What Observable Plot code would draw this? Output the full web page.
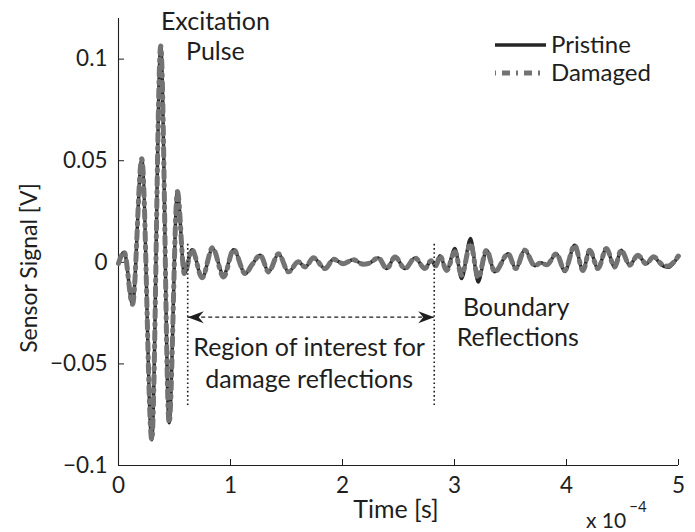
<!DOCTYPE html>
<html>
<head>
<meta charset="utf-8">
<script src="https://cdn.jsdelivr.net/npm/d3@7"></script>
<script src="https://cdn.jsdelivr.net/npm/@observablehq/plot@0.6"></script>
<style>
  body { margin: 0; background: #fff; }
  #chart svg { display: block; }
</style>
</head>
<body>
<div id="chart"></div>
<script>
// Time samples in units of 1e-4 s (extrema and turning points of the recorded traces)
const time = [
  0.000, 0.051, 0.125, 0.208, 0.297, 0.377, 0.452, 0.526, 0.588, 0.657,
  0.746, 0.840, 0.938, 1.028, 1.132, 1.192, 1.266, 1.340, 1.429, 1.518,
  1.604, 1.667, 1.741, 1.845, 1.919, 2.008, 2.094, 2.184, 2.237, 2.320,
  2.395, 2.469, 2.558, 2.647, 2.736, 2.790, 2.834, 2.870, 2.930, 3.004,
  3.063, 3.143, 3.211, 3.286, 3.360, 3.479, 3.547, 3.627, 3.717, 3.770,
  3.824, 3.910, 3.984, 4.073, 4.147, 4.207, 4.281, 4.356, 4.430, 4.489,
  4.563, 4.637, 4.712, 4.777, 4.846, 4.902, 5.000
];

// Sensor signal [V], pristine plate
const pristine = [
  -0.0005, 0.005, -0.0207, 0.051, -0.0873, 0.1065, -0.079, 0.0348, -0.0056, 0.0062,
  -0.0076, 0.0067, -0.0061, 0.0062, -0.0056, -0.0012, 0.0035, -0.0047, 0.0042, -0.0047,
  0.0003, -0.0023, 0.0022, -0.0031, 0.0015, -0.0007, 0.0013, -0.0009, -0.0005, 0.0022,
  -0.0031, 0.0026, -0.0031, 0.0022, -0.0031, 0.0008, -0.0017, 0.0032, -0.004, 0.0068,
  -0.008, 0.0117, -0.0097, 0.006, -0.0047, 0.0042, -0.0031, 0.006, -0.0017, -0.0002,
  -0.0012, 0.0042, -0.0045, 0.0084, -0.004, 0.006, -0.0031, 0.0068, -0.0023, 0.006,
  -0.0014, 0.0035, -0.0007, 0.0027, -0.0012, -0.0025, 0.0032
];

// Sensor signal [V], damaged plate
const damaged = [
  -0.0005, 0.005, -0.0207, 0.051, -0.0873, 0.1065, -0.079, 0.0348, -0.0056, 0.0062,
  -0.0076, 0.0072, -0.0072, 0.0062, -0.0056, -0.0012, 0.0035, -0.0047, 0.0042, -0.0047,
  0.0003, -0.0023, 0.0022, -0.0031, 0.0015, -0.0007, 0.0013, -0.0009, -0.0005, 0.0022,
  -0.0031, 0.0026, -0.0031, 0.0022, -0.0031, 0.0008, -0.0017, 0.0032, -0.004, 0.0052,
  -0.0064, 0.0091, -0.0076, 0.006, -0.0047, 0.0042, -0.0031, 0.006, -0.0017, -0.0002,
  -0.0012, 0.0042, -0.004, 0.0084, -0.004, 0.006, -0.0031, 0.0068, -0.0023, 0.006,
  -0.0014, 0.0035, -0.0007, 0.0027, -0.0007, -0.0019, 0.0032
];

const seriesNames = ["Pristine", "Damaged"];
const xTicks = [0, 1, 2, 3, 4, 5];
const yTicks = [-0.1, -0.05, 0, 0.05, 0.1];

// Region of interest for damage reflections (time, 1e-4 s) and its marker extents (V)
const roiBounds = [0.618, 2.819];
const roiMarkerRange = [-0.0705, 0.0094];
const roiArrowLevel = -0.027;

// Text annotations anchored in data coordinates
const notes = [
  {t: 0.865, v: 0.1183, label: "Excitation"},
  {t: 0.865, v: 0.1036, label: "Pulse"},
  {t: 1.702, v: -0.0424, label: "Region of interest for"},
  {t: 1.702, v: -0.0577, label: "damage reflections"},
  {t: 3.550, v: -0.0224, label: "Boundary"},
  {t: 3.565, v: -0.0372, label: "Reflections"}
];

const rows = time.map((t, i) => ({t, pristine: pristine[i], damaged: damaged[i]}));

const ink = "#1e1e1e";
const pristineColor = "#262626";
const damagedColor = "#737373";
const damagedDash = "8,6,2,6";

// Filled arrowhead with its tip at the origin, pointing along +x
const arrowHead = {
  draw(context) {
    context.moveTo(0, 0);
    context.lineTo(-16, -6);
    context.lineTo(-11, 0);
    context.lineTo(-16, 6);
    context.closePath();
  }
};

const fmtY = d => d === 0 ? "0" : (d < 0 ? "\u2212" : "") + String(Math.abs(d));

const plot = Plot.plot({
  width: 695,
  height: 532,
  marginLeft: 118,
  marginRight: 17,
  marginTop: 18,
  marginBottom: 67,
  style: {fontFamily: "Lato, 'Open Sans', sans-serif", fontSize: "22px", color: ink, background: "#fff", overflow: "visible"},
  x: {domain: [0, 5]},
  y: {domain: [-0.1, 0.12]},
  marks: [
    Plot.axisY(yTicks, {tickSize: -6, tickPadding: 17, tickFormat: fmtY, label: null, fontSize: 22.5}),
    Plot.axisX(xTicks, {tickSize: -6, tickPadding: 18, tickFormat: d => String(d), label: null, fontSize: 22.5}),
    Plot.ruleX([0], {stroke: ink, strokeWidth: 1.1}),
    Plot.ruleY([-0.1], {stroke: ink, strokeWidth: 1.1}),
    Plot.line(rows, {x: "t", y: "pristine", curve: "monotone-x", stroke: pristineColor, strokeWidth: 3.4}),
    Plot.line(rows, {x: "t", y: "damaged", curve: "monotone-x", stroke: damagedColor, strokeWidth: 5, strokeDasharray: damagedDash}),
    Plot.ruleX(roiBounds, {y1: roiMarkerRange[0], y2: roiMarkerRange[1], stroke: ink, strokeWidth: 1.6, strokeDasharray: "1.6,2.6"}),
    Plot.ruleY([roiArrowLevel], {x1: roiBounds[0], x2: roiBounds[1], stroke: ink, strokeWidth: 1.3, strokeDasharray: "4,3"}),
    Plot.dot([{t: roiBounds[0], dir: 180}, {t: roiBounds[1], dir: 0}], {x: "t", y: () => roiArrowLevel, symbol: arrowHead, rotate: "dir", fill: ink, stroke: "none", r: 4}),
    Plot.text(notes, {x: "t", y: "v", text: "label", fontSize: 25, fill: ink, textAnchor: "middle", lineAnchor: "middle"})
  ]
});

const svg = d3.select(plot);

// Legend, upper right
const legend = svg.append("g").attr("font-size", 24).attr("fill", ink).attr("text-anchor", "start");
seriesNames.forEach((name, i) => {
  const y = 45 + i * 28;
  if (i === 0) {
    legend.append("line").attr("x1", 495).attr("x2", 546).attr("y1", y).attr("y2", y)
      .attr("stroke", pristineColor).attr("stroke-width", 3.4);
  } else {
    legend.append("line").attr("x1", 495).attr("x2", 546).attr("y1", y).attr("y2", y)
      .attr("stroke", damagedColor).attr("stroke-width", 5).attr("stroke-dasharray", damagedDash)
      .attr("stroke-dashoffset", 15);
  }
  legend.append("text").attr("x", 551).attr("y", y).attr("dy", "0.35em").text(name);
});

// Axis titles and exponent note
svg.append("text")
  .attr("transform", "translate(29,268) rotate(-90)")
  .attr("text-anchor", "middle").attr("dy", "0.35em")
  .attr("font-size", 23).attr("fill", ink)
  .text("Sensor Signal [V]");

svg.append("text")
  .attr("x", 396).attr("y", 518)
  .attr("text-anchor", "middle")
  .attr("font-size", 25).attr("fill", ink)
  .text("Time [s]");

const expo = svg.append("text").attr("x", 586).attr("y", 528)
  .attr("text-anchor", "start").attr("font-size", 21).attr("fill", ink);
expo.append("tspan").text("x 10");
expo.append("tspan").attr("dx", 3).attr("dy", -16).attr("font-size", 15).text("\u22124");

document.getElementById("chart").appendChild(plot);
</script>
</body>
</html>
